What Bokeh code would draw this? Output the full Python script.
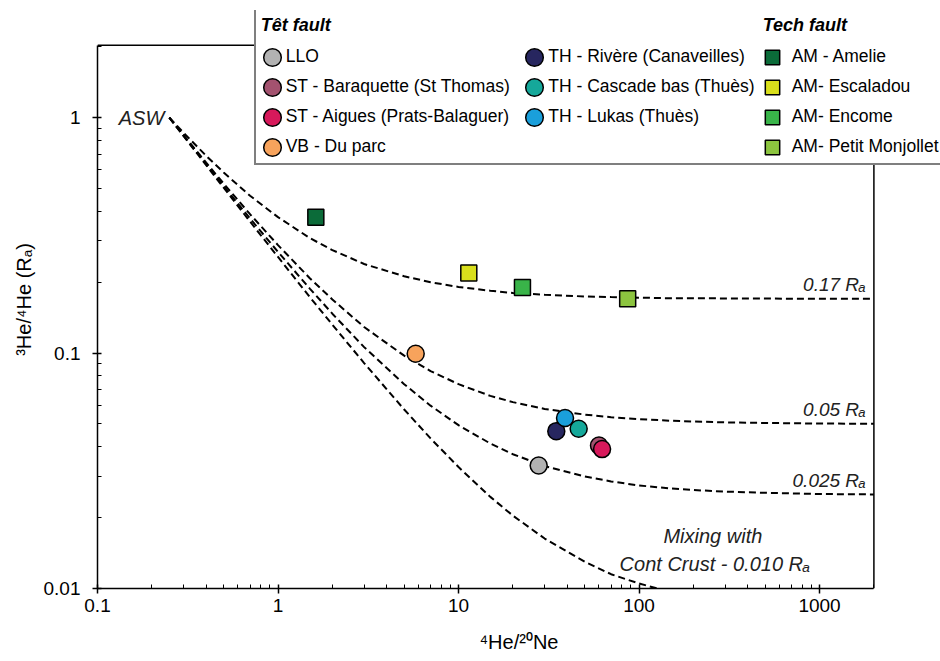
from bokeh.plotting import figure
from bokeh.models import Range1d, FixedTicker, CustomJSTickFormatter, Legend, LegendItem, Label
from bokeh.embed import file_html
from bokeh.resources import INLINE
from bokeh.core.properties import value

FONT = "Liberation Sans"

# ---------------- data ----------------
tet_labels = ["LLO", "ST - Baraquette (St Thomas)", "ST - Aigues (Prats-Balaguer)", "VB - Du parc",
              "TH - Rivère (Canaveilles)", "TH - Cascade bas (Thuès)", "TH - Lukas (Thuès)"]
tet_hene = [27.8, 60.0, 62.4, 5.79, 34.8, 46.3, 38.9]
tet_ra = [0.0333, 0.0405, 0.0391, 0.0994, 0.0466, 0.0477, 0.0530]
tet_colors = ["#b2b2b2", "#a3526f", "#d7195b", "#f7a35c", "#27265f", "#15a89a", "#1a9fdb"]

tech_labels = ["AM - Amelie", "AM- Escaladou", "AM- Encome", "AM- Petit Monjollet"]
tech_hene = [1.62, 11.4, 22.6, 86.5]
tech_ra = [0.378, 0.219, 0.190, 0.170]
tech_colors = ["#0b6b39", "#d9df1c", "#39b449", "#8cc43f"]

asw_hene = [0.25]
asw_ra = [1.0]

mix_x = [0.25, 0.3, 0.4, 0.5, 0.7, 1, 1.5, 2, 3, 5, 7, 10, 15, 20, 30, 50, 70, 100, 150, 200, 300, 500, 1000, 2000]
mix_017 = [1.0, 0.862, 0.689, 0.585, 0.466, 0.378, 0.308, 0.274, 0.239, 0.212, 0.200, 0.191, 0.184, 0.180,
           0.177, 0.174, 0.173, 0.172, 0.171, 0.171, 0.1707, 0.1704, 0.1702, 0.1701]
mix_005 = [1.0, 0.842, 0.644, 0.525, 0.389, 0.2875, 0.208, 0.169, 0.129, 0.0975, 0.0839, 0.0738, 0.0658, 0.0619,
           0.0579, 0.0548, 0.0534, 0.0524, 0.0516, 0.0512, 0.0508, 0.0505, 0.0502, 0.0501]
mix_0025 = [1.0, 0.838, 0.634, 0.513, 0.373, 0.269, 0.188, 0.147, 0.106, 0.0738, 0.0598, 0.0494, 0.0413, 0.0372,
            0.0331, 0.0299, 0.0285, 0.0274, 0.0266, 0.0262, 0.0258, 0.0255, 0.0252, 0.0251]
mix_x_001 = [0.25, 0.3, 0.4, 0.5, 0.7, 1, 1.5, 2, 3, 5, 7, 10, 15, 20, 30, 50, 70, 100, 150]
mix_001 = [1.0, 0.835, 0.628, 0.504, 0.362, 0.256, 0.173, 0.132, 0.0907, 0.0576, 0.0434, 0.0328, 0.0245, 0.0204,
           0.0163, 0.0130, 0.0115, 0.0105, 0.00965]

end_members = [0.17, 0.05, 0.025]
end_labels = ["0.17 Rₐ", "0.05 Rₐ", "0.025 Rₐ"]

x_major = [0.1, 1, 10, 100, 1000]
y_major = [0.01, 0.1, 1]

# plotting box (axes extent)
X_START, X_END = 0.1, 2000
Y_START, Y_END = 0.01, 2.03
# canvas frame extends further so the legend box can sit above / right of the plotting box
X_VIEW_END = 4677
Y_VIEW_END = 2.853

# ---------------- figure ----------------
p = figure(width=940, height=661, x_axis_type="log", y_axis_type="log",
           x_range=Range1d(X_START, X_VIEW_END), y_range=Range1d(Y_START, Y_VIEW_END),
           output_backend="svg", toolbar_location=None,
           min_border_left=97, min_border_right=0, min_border_top=10, min_border_bottom=73)
p.title = None
p.xgrid.visible = False
p.ygrid.visible = False
p.outline_line_color = None
p.background_fill_color = "white"

x_minor = [m * d for d in [0.1, 1, 10, 100, 1000] for m in range(2, 10) if m * d <= X_END]
y_minor = [m * d for d in [0.01, 0.1, 1] for m in range(2, 10) if m * d <= Y_END]
p.xaxis.ticker = FixedTicker(ticks=x_major, minor_ticks=x_minor)
p.yaxis.ticker = FixedTicker(ticks=y_major, minor_ticks=y_minor)
fmt = "return String(tick);"
p.xaxis.formatter = CustomJSTickFormatter(code=fmt)
p.yaxis.formatter = CustomJSTickFormatter(code=fmt)
p.xaxis.bounds = (X_START, X_END)
p.yaxis.bounds = (Y_START, Y_END)

for ax in (p.xaxis[0], p.yaxis[0]):
    ax.axis_line_color = "black"
    ax.axis_line_width = 1.5
    ax.major_tick_line_color = "black"
    ax.major_tick_line_width = 1.5
    ax.major_tick_in = 4
    ax.major_tick_out = 5
    ax.minor_tick_line_color = "black"
    ax.minor_tick_line_width = 1
    ax.minor_tick_in = 4
    ax.minor_tick_out = 0
    ax.major_label_text_font = FONT
    ax.major_label_text_font_size = "19px"
    ax.major_label_text_color = "black"
    ax.axis_label_text_font = FONT
    ax.axis_label_text_font_size = "20px"
    ax.axis_label_text_font_style = "normal"
    ax.axis_label_text_color = "black"

p.xaxis.axis_label = "⁴He/²⁰Ne"
p.yaxis.axis_label = "³He/⁴He (Rₐ)"
p.xaxis.major_label_standoff = 5
p.xaxis.axis_label_standoff = 16
p.yaxis.major_label_standoff = 12
p.yaxis.axis_label_standoff = 6

# top and right edges of the plotting box
p.line(x=[X_START, X_END, X_END], y=[Y_END, Y_END, Y_START], line_color="black", line_width=1.5)

# mixing curves
dash = dict(line_color="black", line_width=2, line_dash="7 4")
p.line(mix_x, mix_017, **dash)
p.line(mix_x, mix_005, **dash)
p.line(mix_x, mix_0025, **dash)
p.line(mix_x_001, mix_001, **dash)

# curve labels
p.text(x=[X_END] * len(end_members), y=end_members, text=end_labels,
       text_font=value(FONT), text_font_style="italic", text_font_size="19px",
       text_align="right", text_baseline="middle", x_offset=-8, y_offset=-14, text_color="#222222")
p.text(x=asw_hene, y=asw_ra, text=["ASW"], text_font=value(FONT), text_font_style="italic",
       text_font_size="20px", text_align="right", text_baseline="middle", x_offset=-5, text_color="#222222")

# data points
tet_r = []
for xv, yv, c in zip(tet_hene, tet_ra, tet_colors):
    tet_r.append(p.ellipse(x=[xv], y=[yv], width=17, height=17, width_units="screen",
                           height_units="screen", fill_color=c, line_color="black", line_width=1.5))
tech_r = []
for xv, yv, c in zip(tech_hene, tech_ra, tech_colors):
    tech_r.append(p.rect(x=[xv], y=[yv], width=16, height=16, width_units="screen",
                         height_units="screen", fill_color=c, line_color="black", line_width=1.5))

# text annotations (mixing with crust)
p.add_layout(Label(x=X_END, y=Y_START, x_offset=-161, y_offset=53, text="Mixing with",
                   text_font=FONT, text_font_style="italic", text_font_size="20px",
                   text_align="center", text_baseline="middle", text_color="#222222"))
p.add_layout(Label(x=X_END, y=Y_START, x_offset=-159, y_offset=25, text="Cont Crust - 0.010 Rₐ",
                   text_font=FONT, text_font_style="italic", text_font_size="20px",
                   text_align="center", text_baseline="middle", text_color="#222222"))

# legend box
box_r = p.line(x=[], y=[], line_alpha=0)
box = Legend(items=[LegendItem(label=" ", renderers=[box_r])], location=(157, 423),
             glyph_width=720, glyph_height=155, label_height=155, padding=0, margin=0, spacing=0,
             label_standoff=0, border_line_color="black", border_line_width=2,
             background_fill_color="white", background_fill_alpha=1.0)
p.add_layout(box, "center")

common = dict(margin=0, padding=0, border_line_color=None, background_fill_alpha=0,
              label_text_font=FONT, label_text_font_size="17.5px", label_text_color="black",
              title_text_font=FONT, title_text_font_style="bold italic", title_text_font_size="18px",
              title_text_color="black", title_standoff=10)
leg1 = Legend(items=[LegendItem(label=tet_labels[i], renderers=[tet_r[i]]) for i in range(4)],
              title="Têt fault", location=(163.7, 430.3), glyph_width=22, glyph_height=22,
              label_height=22, spacing=8, label_standoff=3, **common)
leg2 = Legend(items=[LegendItem(label=tet_labels[i], renderers=[tet_r[i]]) for i in range(4, 7)],
              location=(426.3, 460.3), glyph_width=22, glyph_height=22,
              label_height=22, spacing=8, label_standoff=3, **common)
leg3 = Legend(items=[LegendItem(label=tech_labels[i], renderers=[tech_r[i]]) for i in range(4)],
              title="Tech fault", location=(665.7, 430.3), glyph_width=18, glyph_height=18,
              label_height=22, spacing=8, label_standoff=11, **common)
for lg in (leg1, leg2, leg3):
    p.add_layout(lg, "center")

open("out.html", "w").write(file_html(p, INLINE))
